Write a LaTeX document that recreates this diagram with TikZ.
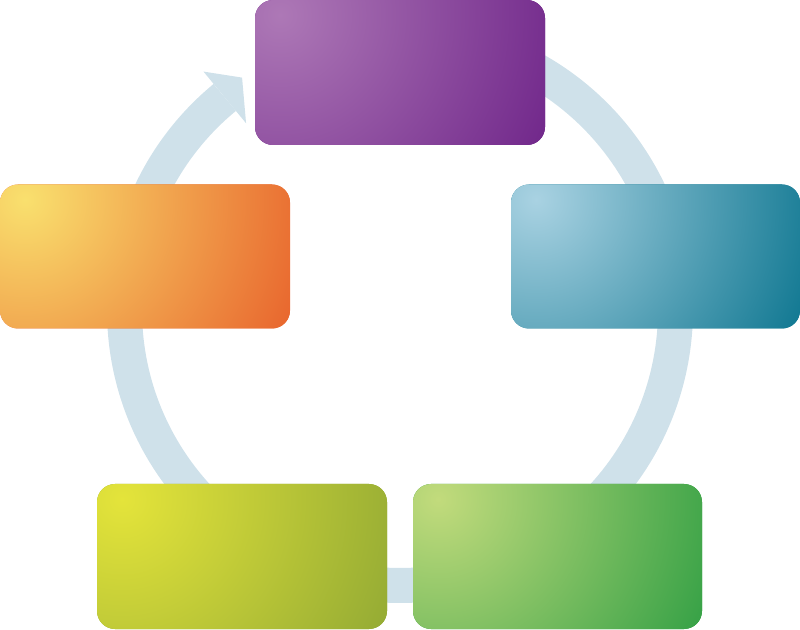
\documentclass[tikz,border=0pt]{standalone}
\usetikzlibrary{calc}
\definecolor{ringc}{HTML}{CFE1EA}
\definecolor{purL}{HTML}{AD78B6}
\definecolor{purD}{HTML}{70268A}
\definecolor{oraL}{HTML}{F9E06E}
\definecolor{oraD}{HTML}{E8632C}
\definecolor{bluL}{HTML}{A9D2E2}
\definecolor{bluD}{HTML}{0D7690}
\definecolor{yelL}{HTML}{E4E43A}
\definecolor{yelD}{HTML}{93AA34}
\definecolor{grnL}{HTML}{C2DB7C}
\definecolor{grnD}{HTML}{33A045}
\tikzset{
  box/.style 2 args={minimum width=290pt, minimum height=145pt, rounded corners=18pt,
    inner sep=0pt, outer sep=0pt, fill=#2,
    path picture={\shade[inner color=#1, outer color=#2]
      ([xshift=25pt,yshift=-15pt]path picture bounding box.north west) circle (300pt);}},
  ring/.style={draw=ringc, line width=35pt},
  ringhead/.style={fill=ringc, draw=none}
}
\begin{document}
\begin{tikzpicture}[x=1pt,y=1pt]
\useasboundingbox (0,0) rectangle (800,629);
\coordinate (C) at (400,319);
% cycle ring with arrow
\draw[ring] ($(C)+(129.5:275.5)$) arc[start angle=129.5, end angle=450, radius=275.5];
\fill[ringhead] ($(C)+(129.5:242)$) -- ($(C)+(129.5:309)$) -- ($(C)+(124.2:281)$) -- cycle;
% boxes
\node[box={purL}{purD}] (purple) at (400,556.5) {};
\node[box={oraL}{oraD}, minimum height=144pt] (orange) at (145,372.5) {};
\node[box={bluL}{bluD}, minimum height=144pt, minimum width=289pt] (blue) at (655.5,372.5) {};
\node[box={yelL}{yelD}] (yellow) at (242,72.5) {};
\node[box={grnL}{grnD}, minimum width=289pt] (green) at (557.5,72.5) {};
\end{tikzpicture}
\end{document}
